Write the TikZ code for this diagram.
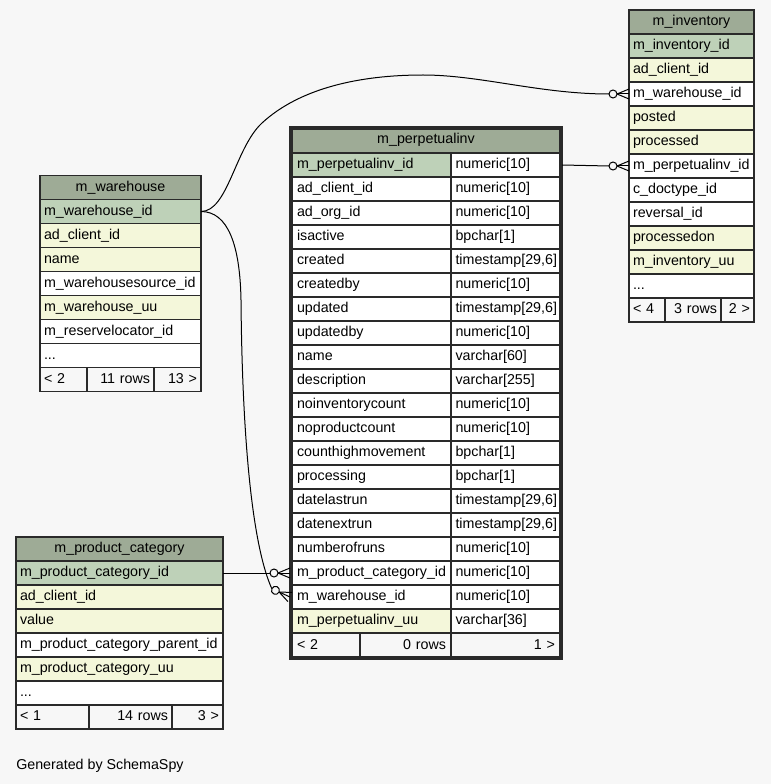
\documentclass[tikz,border=0pt]{standalone}
\usepackage{fontspec}
\setmainfont{Liberation Sans}
\usetikzlibrary{calc}
\definecolor{bg}{HTML}{F7F7F7}
\definecolor{hdr}{HTML}{9EAB96}
\definecolor{pk}{HTML}{BED1B8}
\definecolor{yl}{HTML}{F4F7DA}
\definecolor{wh}{HTML}{FFFFFF}
\definecolor{ft}{HTML}{F7F7F7}
\definecolor{ln}{HTML}{2A2A2A}
\newcommand\cellsep{4}
\newcommand\cellh{24}
\newcommand\tcell[7]{%
  \pgfmathsetlengthmacro\tcw{#4*0.75pt}%
  \pgfmathsetlengthmacro\tctw{(#4-2*\cellsep)*0.75pt}%
  \pgfmathsetlengthmacro\tcs{\cellsep*0.75pt}%
  \pgfmathsetlengthmacro\tch{\cellh*0.75pt}%
  \node[cellbox,fill=#5,align=#6,minimum width=\tcw,minimum height=\tch,text width=\tctw,inner xsep=\tcs] (#1) at (#2,#3) {\mbox{#7}};}
\newcommand\crowat[2]{%
  \begin{scope}[shift={(#1)},rotate=#2]
    \draw[conn] (-12,0) -- (0,-5);
    \draw[conn] (-12,0) -- (0,0);
    \draw[conn] (-12,0) -- (0,5);
    \draw[conn,fill=bg] (-16,0) circle[radius=3pt];
  \end{scope}}
\tikzset{
  cellbox/.style={draw=ln,line width=0.8pt,anchor=north west,inner ysep=0pt,outer sep=0pt,
    text height=7.1pt,text depth=1.5pt,font=\fontsize{10.7pt}{12pt}\selectfont},
  conn/.style={draw=black,line width=0.75pt},
  thick border/.style={draw=ln,line width=2.25pt}
}
\begin{document}
\begin{tikzpicture}[x=0.75pt,y=-0.75pt]
\path[use as bounding box,fill=bg] (0,0) rectangle (771,784);

% m_inventory
\tcell{inv}{629}{10}{125}{hdr}{center}{m\_inventory}
\tcell{inv-id}{629}{34}{125}{pk}{left}{m\_inventory\_id}
\tcell{inv-cl}{629}{58}{125}{yl}{left}{ad\_client\_id}
\tcell{inv-wh}{629}{82}{125}{wh}{left}{m\_warehouse\_id}
\tcell{inv-po}{629}{106}{125}{yl}{left}{posted}
\tcell{inv-pr}{629}{130}{125}{yl}{left}{processed}
\tcell{inv-pv}{629}{154}{125}{wh}{left}{m\_perpetualinv\_id}
\tcell{inv-dt}{629}{178}{125}{wh}{left}{c\_doctype\_id}
\tcell{inv-rv}{629}{202}{125}{wh}{left}{reversal\_id}
\tcell{inv-pd}{629}{226}{125}{yl}{left}{processedon}
\tcell{inv-uu}{629}{250}{125}{yl}{left}{m\_inventory\_uu}
\tcell{inv-more}{629}{274}{125}{wh}{left}{...}
\tcell{inv-f1}{629}{298}{36}{ft}{left}{< 4}
\tcell{inv-f2}{665}{298}{56}{ft}{right}{3 rows}
\tcell{inv-f3}{721}{298}{33}{ft}{right}{2 >}

% m_warehouse
\tcell{wh}{40}{175.5}{161}{hdr}{center}{m\_warehouse}
\tcell{wh-id}{40}{199.5}{161}{pk}{left}{m\_warehouse\_id}
\tcell{wh-cl}{40}{223.5}{161}{yl}{left}{ad\_client\_id}
\tcell{wh-nm}{40}{247.5}{161}{yl}{left}{name}
\tcell{wh-src}{40}{271.5}{161}{wh}{left}{m\_warehousesource\_id}
\tcell{wh-uu}{40}{295.5}{161}{yl}{left}{m\_warehouse\_uu}
\tcell{wh-rl}{40}{319.5}{161}{wh}{left}{m\_reservelocator\_id}
\tcell{wh-more}{40}{343.5}{161}{wh}{left}{...}
\tcell{wh-f1}{40}{367.5}{47}{ft}{left}{< 2}
\tcell{wh-f2}{87}{367.5}{67}{ft}{right}{11 rows}
\tcell{wh-f3}{154}{367.5}{47}{ft}{right}{13 >}

% m_product_category
\tcell{pc}{16}{537}{207}{hdr}{center}{m\_product\_category}
\tcell{pc-id}{16}{561}{207}{pk}{left}{m\_product\_category\_id}
\tcell{pc-cl}{16}{585}{207}{yl}{left}{ad\_client\_id}
\tcell{pc-val}{16}{609}{207}{yl}{left}{value}
\tcell{pc-par}{16}{633}{207}{wh}{left}{m\_product\_category\_parent\_id}
\tcell{pc-uu}{16}{657}{207}{yl}{left}{m\_product\_category\_uu}
\tcell{pc-more}{16}{681}{207}{wh}{left}{...}
\tcell{pc-f1}{16}{705}{73}{ft}{left}{< 1}
\tcell{pc-f2}{89}{705}{83}{ft}{right}{14 rows}
\tcell{pc-f3}{172}{705}{51}{ft}{right}{3 >}

% m_perpetualinv
\begin{scope}
\renewcommand\cellh{26}
\tcell{pv}{290}{127}{272}{hdr}{center}{m\_perpetualinv}
\renewcommand\cellh{24}
\renewcommand\cellsep{7}
\tcell{pv-id}{290}{153}{161}{pk}{left}{m\_perpetualinv\_id}
\tcell{pv-cl}{290}{177}{161}{wh}{left}{ad\_client\_id}
\tcell{pv-org}{290}{201}{161}{wh}{left}{ad\_org\_id}
\tcell{pv-act}{290}{225}{161}{wh}{left}{isactive}
\tcell{pv-cr}{290}{249}{161}{wh}{left}{created}
\tcell{pv-crb}{290}{273}{161}{wh}{left}{createdby}
\tcell{pv-up}{290}{297}{161}{wh}{left}{updated}
\tcell{pv-upb}{290}{321}{161}{wh}{left}{updatedby}
\tcell{pv-nm}{290}{345}{161}{wh}{left}{name}
\tcell{pv-ds}{290}{369}{161}{wh}{left}{description}
\tcell{pv-nic}{290}{393}{161}{wh}{left}{noinventorycount}
\tcell{pv-npc}{290}{417}{161}{wh}{left}{noproductcount}
\tcell{pv-chm}{290}{441}{161}{wh}{left}{counthighmovement}
\tcell{pv-prc}{290}{465}{161}{wh}{left}{processing}
\tcell{pv-dlr}{290}{489}{161}{wh}{left}{datelastrun}
\tcell{pv-dnr}{290}{513}{161}{wh}{left}{datenextrun}
\tcell{pv-nor}{290}{537}{161}{wh}{left}{numberofruns}
\tcell{pv-pc}{290}{561}{161}{wh}{left}{m\_product\_category\_id}
\tcell{pv-wh}{290}{585}{161}{wh}{left}{m\_warehouse\_id}
\tcell{pv-uu}{290}{609}{161}{yl}{left}{m\_perpetualinv\_uu}
\renewcommand\cellsep{4.5}
\tcell{pv-id-t}{451}{153}{111}{wh}{left}{numeric[10]}
\tcell{pv-cl-t}{451}{177}{111}{wh}{left}{numeric[10]}
\tcell{pv-org-t}{451}{201}{111}{wh}{left}{numeric[10]}
\tcell{pv-act-t}{451}{225}{111}{wh}{left}{bpchar[1]}
\tcell{pv-cr-t}{451}{249}{111}{wh}{left}{timestamp[29,6]}
\tcell{pv-crb-t}{451}{273}{111}{wh}{left}{numeric[10]}
\tcell{pv-up-t}{451}{297}{111}{wh}{left}{timestamp[29,6]}
\tcell{pv-upb-t}{451}{321}{111}{wh}{left}{numeric[10]}
\tcell{pv-nm-t}{451}{345}{111}{wh}{left}{varchar[60]}
\tcell{pv-ds-t}{451}{369}{111}{wh}{left}{varchar[255]}
\tcell{pv-nic-t}{451}{393}{111}{wh}{left}{numeric[10]}
\tcell{pv-npc-t}{451}{417}{111}{wh}{left}{numeric[10]}
\tcell{pv-chm-t}{451}{441}{111}{wh}{left}{bpchar[1]}
\tcell{pv-prc-t}{451}{465}{111}{wh}{left}{bpchar[1]}
\tcell{pv-dlr-t}{451}{489}{111}{wh}{left}{timestamp[29,6]}
\tcell{pv-dnr-t}{451}{513}{111}{wh}{left}{timestamp[29,6]}
\tcell{pv-nor-t}{451}{537}{111}{wh}{left}{numeric[10]}
\tcell{pv-pc-t}{451}{561}{111}{wh}{left}{numeric[10]}
\tcell{pv-wh-t}{451}{585}{111}{wh}{left}{numeric[10]}
\tcell{pv-uu-t}{451}{609}{111}{wh}{left}{varchar[36]}
\renewcommand\cellh{26}
\renewcommand\cellsep{7}
\tcell{pv-f1}{290}{633}{70}{ft}{left}{< 2}
\renewcommand\cellsep{5}
\tcell{pv-f2}{360}{633}{91}{ft}{right}{0 rows}
\renewcommand\cellsep{7}
\tcell{pv-f3}{451}{633}{111}{ft}{right}{1 >}
\end{scope}
\draw[thick border] ($(pv.north west)+(1.5,1.5)$) rectangle ($(pv-f3.south east)+(-1.5,-1.5)$);

% connectors
\draw[conn] (wh-id.east) .. controls (228,211.5) and (235,148) .. (262,123)
  .. controls (300,88) and (360,75) .. (423,75)
  .. controls (480,75) and (540,94) .. ($(inv-wh.west)+(-20,0)$);
\crowat{inv-wh.west}{0}

\draw[conn] (pv-id-t.east) -- ($(inv-pv.west)+(-20,0)$);
\crowat{inv-pv.west}{0}

\draw[conn] (pc-id.east) -- ($(pv-pc.west)+(-20,0)$);
\crowat{pv-pc.west}{0}

\draw[conn] (wh-id.east) .. controls (228,211.5) and (240,245) .. (241,300)
  .. controls (242,420) and (250,540) .. ($(pv-wh.west)+(-18.2,-8.3)$);
\crowat{pv-wh.west}{-24.6}

\node[anchor=base west,inner sep=0pt,font=\fontsize{10.7pt}{12pt}\selectfont] (gen) at (16,769) {Generated by SchemaSpy};
\end{tikzpicture}
\end{document}
